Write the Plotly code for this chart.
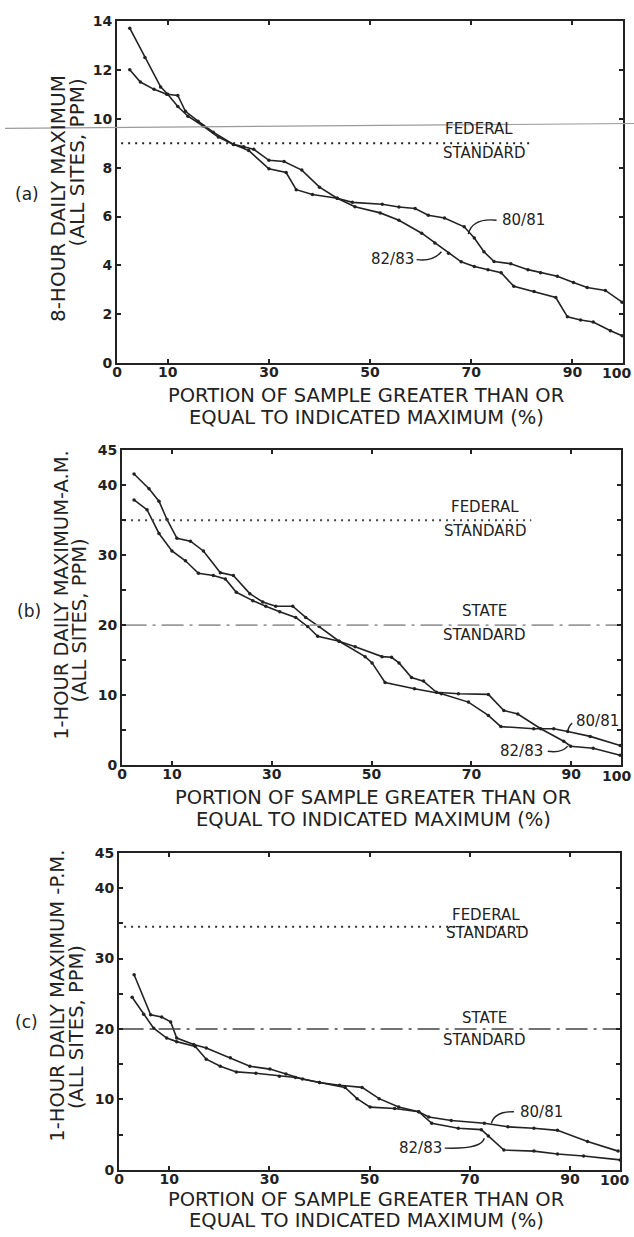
import plotly.graph_objects as go

W, H = 634, 1237

# ---------------- data ----------------
# Panel (a): 8-hour daily maximum (ppm)
a_x_8081 = [2.5, 4.6, 7.3, 9.8, 12, 13.5, 16, 19, 23, 26, 30, 33.4, 35.4, 38.6, 43.5, 46.5, 52.4, 55.7,
            58.9, 61.5, 64.7, 68.6, 70.6, 72.5, 74.5, 77.8, 81.2, 83.7, 87, 90.2, 92.9, 96.5, 99.8]
a_y_8081 = [12.0, 11.5, 11.2, 11.0, 10.95, 10.3, 9.9, 9.45, 8.95, 8.7, 7.95, 7.8, 7.1, 6.9, 6.75, 6.58, 6.5, 6.39,
            6.33, 6.05, 5.94, 5.58, 5.12, 4.56, 4.16, 4.07, 3.83, 3.7, 3.56, 3.3, 3.1, 2.98, 2.5]
a_x_8283 = [2.5, 5.5, 8.6, 10, 12, 14, 17, 20, 23, 25, 27, 30, 33, 36.5, 40, 43.5, 47, 52, 55.7, 60.2, 62.8,
            65.5, 68, 70.6, 73.3, 75.9, 78.4, 82.4, 86.7, 89, 91.6, 94.1, 97.5, 99.8]
a_y_8283 = [13.7, 12.5, 11.3, 11.0, 10.5, 10.1, 9.7, 9.25, 8.95, 8.85, 8.75, 8.3, 8.25, 7.9, 7.2, 6.75, 6.4, 6.15,
            5.85, 5.32, 4.92, 4.5, 4.15, 3.96, 3.83, 3.7, 3.15, 2.94, 2.69, 1.9, 1.77, 1.69, 1.33, 1.13]

# Panel (b): 1-hour daily maximum A.M. (ppm)
b_x_8081 = [2.4, 5.4, 7.4, 9, 11, 13.7, 16.3, 19.7, 22.3, 25.6, 28.2, 30.8, 34.2, 36.8, 39.5, 43.5, 48.7, 50.1,
            52.7, 58.6, 64, 69.4, 73.4, 75.9, 82.5, 86.5, 89.3, 93.8, 99.8]
b_y_8081 = [41.6, 39.5, 37.7, 35.1, 32.4, 32.0, 30.6, 27.5, 27.1, 24.5, 23.3, 22.7, 22.7, 21.1, 19.8, 17.7, 15.5, 14.6,
            11.8, 10.9, 10.2, 9.0, 7.1, 5.5, 5.2, 5.2, 4.8, 4.1, 2.8]
b_x_8283 = [2.4, 5, 7.4, 10, 12.7, 15.3, 18.3, 20.7, 22.9, 26.2, 28.8, 31.6, 34.8, 37.2, 39.2, 43.5, 46.7, 52.1,
            54, 55.5, 58, 60.4, 63, 67.4, 73.4, 76.5, 79.3, 83.9, 88.5, 89.9, 94.4, 99.8]
b_y_8283 = [37.9, 36.5, 33.1, 30.6, 29.2, 27.4, 27.1, 26.6, 24.7, 23.5, 22.7, 21.9, 21.1, 19.8, 18.4, 17.7, 16.9, 15.5,
            15.4, 14.6, 12.5, 12.0, 10.4, 10.2, 10.1, 7.8, 7.3, 5.2, 3.4, 2.7, 2.4, 1.4]

# Panel (c): 1-hour daily maximum P.M. (ppm)
c_x_8081 = [3, 6.3, 8.5, 10.3, 11.5, 14.9, 17.4, 22.2, 26.1, 30.1, 33.3, 36.6, 40, 44, 48.5, 51.9, 55.8, 59.8,
            61.8, 66.3, 72.9, 77.6, 82.8, 87.5, 93.5, 99.6]
c_y_8081 = [27.7, 22.0, 21.7, 21.0, 18.7, 17.8, 17.3, 15.9, 14.7, 14.3, 13.6, 12.9, 12.4, 12.0, 11.7, 10.1, 8.9, 8.25,
            7.5, 7.0, 6.6, 6.1, 5.9, 5.6, 4.0, 2.65]
c_x_8283 = [2.6, 4.9, 6.9, 9.5, 11.5, 15.2, 17.4, 20.2, 23.4, 27.3, 32, 35.2, 40, 45.1, 47.5, 50.1, 55, 59.8,
            62.4, 67.7, 72.3, 73.7, 76.8, 82.8, 87.5, 92.7, 100]
c_y_8283 = [24.5, 22.1, 20.1, 18.7, 18.2, 17.5, 15.7, 14.7, 13.9, 13.7, 13.3, 13.1, 12.4, 11.7, 10.1, 8.9, 8.7, 8.25,
            6.6, 5.9, 5.7, 4.8, 2.8, 2.65, 2.24, 1.96, 1.4]

# standards (ppm)
federal_a = 9
federal_b = 35
federal_c = 34.5
state_std = 20

x_tickvals = [0, 10, 30, 50, 70, 90, 100]
x_ticktext = ["0", "10", "30", "50", "70", "90", ""]   # "100" drawn as text so it stays inside the page
x_last_label = "100"
a_tickvals = [0, 2, 4, 6, 8, 10, 12, 14]
bc_tickvals = [0, 5, 10, 15, 20, 25, 30, 35, 40, 45]
bc_ticktext = ["0", "", "10", "", "20", "", "30", "", "40", "45"]

# ---------------- helpers ----------------
def px(x):
    return x / W

def py(y):
    return 1 - y / H

INK = "#222222"
FONT = "DejaVu Sans"

fig = go.Figure()

def series(xs, ys, xa, ya, name):
    fig.add_trace(go.Scatter(x=xs, y=ys, mode="lines+markers", name=name,
                             line=dict(color=INK, width=1.6),
                             marker=dict(size=3.5, color=INK),
                             xaxis=xa, yaxis=ya, showlegend=False, hoverinfo="skip"))

def hline(x0, x1, y, xa, ya, dash, color, width):
    fig.add_trace(go.Scatter(x=[x0, x1], y=[y, y], mode="lines",
                             line=dict(color=color, width=width, dash=dash),
                             xaxis=xa, yaxis=ya, showlegend=False, hoverinfo="skip"))

series(a_x_8081, a_y_8081, "x", "y", "80/81")
series(a_x_8283, a_y_8283, "x", "y", "82/83")
series(b_x_8081, b_y_8081, "x2", "y2", "80/81")
series(b_x_8283, b_y_8283, "x2", "y2", "82/83")
series(c_x_8081, c_y_8081, "x3", "y3", "80/81")
series(c_x_8283, c_y_8283, "x3", "y3", "82/83")

DOT = "2px,5px"
DASHDOT = "22px,6px,3px,6px"
hline(0.8, 82, federal_a, "x", "y", DOT, INK, 2)
hline(0.4, 82, federal_b, "x2", "y2", DOT, "#444", 2)
hline(0.5, 100, state_std, "x2", "y2", DASHDOT, "#9a9a9a", 1.6)
hline(1, 82, federal_c, "x3", "y3", DOT, "#333", 2)
hline(0.5, 100, state_std, "x3", "y3", DASHDOT, "#444", 1.6)

tickfont = dict(family=FONT, size=14, color=INK, weight="bold")

def xaxis(dom, anchor):
    return dict(domain=dom, range=[0, 100], anchor=anchor, tickmode="array",
                tickvals=x_tickvals, ticktext=x_ticktext, ticks="inside", ticklen=4,
                tickwidth=1.5, tickcolor=INK, showline=True, linewidth=2, linecolor=INK,
                mirror="ticks", showgrid=False, zeroline=False, tickfont=tickfont,
                ticklabelstandoff=-5)

def yaxis(dom, anchor, rng, tv, tt):
    return dict(domain=dom, range=rng, anchor=anchor, tickmode="array",
                tickvals=tv, ticktext=tt, ticks="inside", ticklen=4,
                tickwidth=1.5, tickcolor=INK, showline=True, linewidth=2, linecolor=INK,
                mirror="ticks", showgrid=False, zeroline=False, tickfont=tickfont)

fig.update_layout(
    width=W, height=H, margin=dict(l=0, r=0, t=0, b=0),
    paper_bgcolor="white", plot_bgcolor="white",
    xaxis=xaxis([px(113), px(623)], "y"),
    yaxis=yaxis([py(360), py(13)], "x", [0, 14], a_tickvals, [str(v) for v in a_tickvals]),
    xaxis2=xaxis([px(118), px(621)], "y2"),
    yaxis2=yaxis([py(767), py(448)], "x2", [0, 45], bc_tickvals, bc_ticktext),
    xaxis3=xaxis([px(115), px(620)], "y3"),
    yaxis3=yaxis([py(1177), py(856)], "x3", [0, 45], bc_tickvals, bc_ticktext),
)

ann = []

def text(x, y, s, size=15, angle=0, xanchor="center", yanchor="middle", weight="normal"):
    ann.append(dict(x=px(x), y=py(y), xref="paper", yref="paper", text=s, showarrow=False,
                    textangle=angle, xanchor=xanchor, yanchor=yanchor,
                    font=dict(family=FONT, size=size, color=INK, weight=weight)))

# "100" end labels of the x axes
text(633, 370, x_last_label, size=14, xanchor="right", weight="bold")
text(633, 778, x_last_label, size=14, xanchor="right", weight="bold")
text(631, 1187, x_last_label, size=14, xanchor="right", weight="bold")

# x-axis titles
for y1, y2, cx in [(393, 415, 364), (800, 822, 371), (1207, 1228, 364)]:
    text(cx, y1, "PORTION OF SAMPLE GREATER THAN OR", size=19.5)
    text(cx, y2, "EQUAL TO INDICATED MAXIMUM (%)", size=19.5)

# y-axis titles
text(53, 193, "8-HOUR DAILY MAXIMUM", size=20, angle=-90)
text(73, 156, "(ALL SITES, PPM)", size=20, angle=-90)
text(57, 595, "1-HOUR DAILY MAXIMUM-A.M.", size=19.5, angle=-90)
text(76, 620, "(ALL SITES, PPM)", size=19.5, angle=-90)
text(52, 1001, "1-HOUR DAILY MAXIMUM -P.M.", size=19.5, angle=-90)
text(72, 1032, "(ALL SITES, PPM)", size=19.5, angle=-90)

# panel letters
text(22, 188, "(a)", size=17)
text(24, 611, "(b)", size=17)
text(22, 1027, "(c)", size=17)

# standard labels
text(478, 123, "FEDERAL", size=15)
text(483, 147, "STANDARD", size=15)
text(484, 506, "FEDERAL", size=15)
text(484, 530, "STANDARD", size=15)
text(483, 611, "STATE", size=15)
text(483, 635, "STANDARD", size=15)
text(485, 919, "FEDERAL", size=15)
text(486, 937, "STANDARD", size=15)
text(483, 1023, "STATE", size=15)
text(483, 1046, "STANDARD", size=15)

# series labels
text(523, 215, "80/81", size=15)
text(391, 254, "82/83", size=15)
text(597, 722, "80/81", size=15)
text(521, 753, "82/83", size=15)
text(541, 1118, "80/81", size=15)
text(419, 1155, "82/83", size=15)

fig.update_layout(annotations=ann)

# leader lines (data coordinates)
def leader(path, xr, yr):
    fig.add_shape(type="path", path=path, xref=xr, yref=yr, line=dict(color=INK, width=1.4))

leader("M 75.0,5.85 Q 70.2,5.95 69.4,5.28", "x", "y")
leader("M 59.2,4.24 Q 62.4,4.15 64.1,4.56", "x", "y")
leader("M 90.2,6.0 Q 89.5,5.6 89.3,4.8", "x2", "y2")
leader("M 85.3,1.97 Q 88.2,1.7 89.3,2.7", "x2", "y2")
leader("M 78.8,8.25 Q 75.0,8.3 74.3,6.6", "x3", "y3")
leader("M 65.0,3.08 Q 72.3,2.9 72.9,4.48", "x3", "y3")

# scan line artifact across the page
fig.add_shape(type="line", xref="paper", yref="paper", x0=0, x1=1, y0=py(122), y1=py(117),
              line=dict(color="#9a9a9a", width=1.2))

fig.write_html("out.html")
